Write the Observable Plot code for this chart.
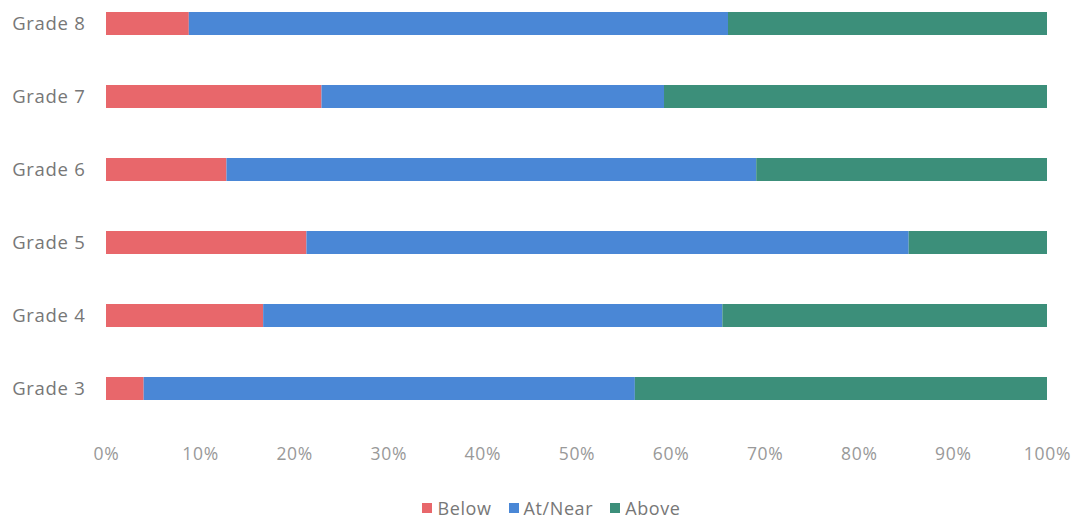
<!DOCTYPE html>
<html>
<head>
<meta charset="utf-8">
<script src="https://cdn.jsdelivr.net/npm/d3@7"></script>
<script src="https://cdn.jsdelivr.net/npm/@observablehq/plot@0.6"></script>
<style>
  html, body { margin: 0; padding: 0; background: #fff; }
  #chart { width: 1079px; }
  .legend { display: flex; justify-content: center; gap: 17px; font-family: "Open Sans", sans-serif; font-size: 18px; color: #777; margin-top: 21px; padding-left: 24px; letter-spacing: 0.6px; }
  .legend span.item { display: flex; align-items: center; }
  .legend span.sw { display: inline-block; width: 10px; height: 10px; margin-right: 5px; }
</style>
</head>
<body>
<div id="chart"></div>
<script>
const grades = ["Grade 8", "Grade 7", "Grade 6", "Grade 5", "Grade 4", "Grade 3"];
const seriesNames = ["Below", "At/Near", "Above"];
const seriesColors = ["#e8676b", "#4a87d6", "#3c8f7a"];
const below  = [8.8, 22.9, 12.8, 21.3, 16.7, 4.0];
const atNear = [57.3, 36.4, 56.3, 64.0, 48.8, 52.2];
const above  = [33.9, 40.7, 30.9, 14.7, 34.5, 43.8];
const xTicks = [0, 10, 20, 30, 40, 50, 60, 70, 80, 90, 100];

const seriesValues = [below, atNear, above];
const rows = [];
seriesNames.forEach((s, si) => {
  grades.forEach((g, gi) => rows.push({grade: g, series: s, value: seriesValues[si][gi]}));
});

const H = 475;
const chart = Plot.plot({
  width: 1079,
  height: H,
  marginTop: 11,
  marginBottom: H - 400,
  marginLeft: 106,
  marginRight: 32,
  style: {fontFamily: "'Open Sans', sans-serif", background: "#fff", letterSpacing: "0.7px"},
  x: {domain: [0, 100], ticks: xTicks},
  y: {domain: grades, paddingInner: 0.686, paddingOuter: 0},
  color: {domain: seriesNames, range: seriesColors},
  marks: [
    Plot.barX(rows, Plot.stackX({x: "value", y: "grade", fill: "series", order: seriesNames})),
    Plot.axisX({ticks: xTicks, tickSize: 0, tickPadding: 47, tickFormat: d => d + "%", fontSize: 17.5, color: "#999", label: null}),
    Plot.axisY({tickSize: 0, tickPadding: 21, fontSize: 18.5, color: "#777", label: null})
  ]
});
document.getElementById("chart").appendChild(chart);

const legend = document.createElement("div");
legend.className = "legend";
seriesNames.forEach((s, i) => {
  const item = document.createElement("span");
  item.className = "item";
  const sw = document.createElement("span");
  sw.className = "sw";
  sw.style.background = seriesColors[i];
  item.appendChild(sw);
  item.appendChild(document.createTextNode(s));
  legend.appendChild(item);
});
document.getElementById("chart").appendChild(legend);
</script>
</body>
</html>
